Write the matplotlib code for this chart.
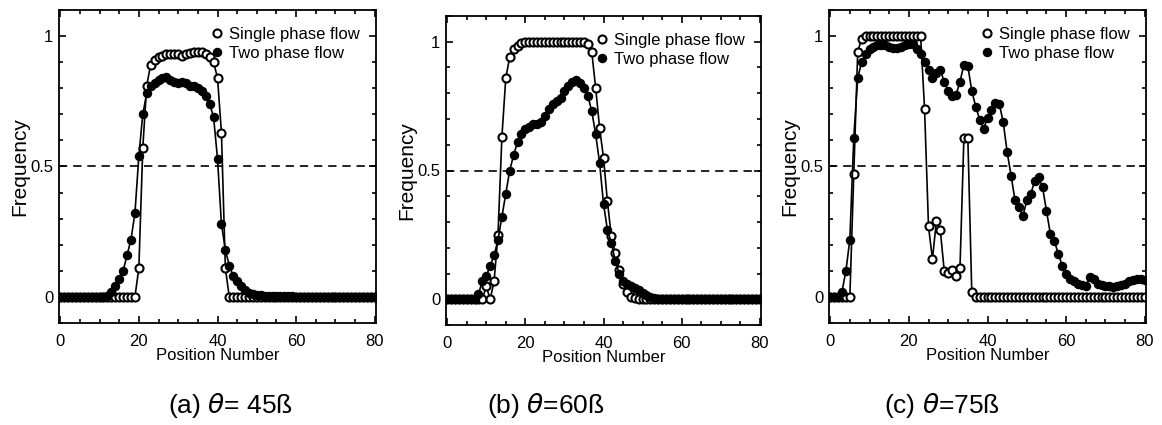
import numpy as np
import matplotlib.pyplot as plt
from matplotlib.ticker import MultipleLocator

plt.rcParams['font.family'] = ['Liberation Sans', 'DejaVu Sans']

pos = np.arange(81)

# (a) theta = 45
single_a = [0]*20 + [0.11, 0.57, 0.81, 0.89, 0.91, 0.92, 0.925, 0.93, 0.93, 0.93,
                     0.93, 0.925, 0.93, 0.935, 0.94, 0.94, 0.94, 0.93, 0.92, 0.90,
                     0.84, 0.63, 0.11] + [0]*38
two_a = [0]*12 + [0.005, 0.02, 0.04, 0.07, 0.10, 0.16, 0.22, 0.32, 0.54, 0.70,
                  0.78, 0.81, 0.82, 0.83, 0.84, 0.845, 0.83, 0.825, 0.82, 0.825,
                  0.82, 0.81, 0.81, 0.80, 0.79, 0.77, 0.74, 0.69, 0.53, 0.28,
                  0.18, 0.12, 0.08, 0.06, 0.04, 0.025, 0.015, 0.01, 0.008, 0.006,
                  0.005, 0.005, 0.004, 0.004, 0.003, 0.003, 0.002, 0.002, 0.001] + [0]*20

# (b) theta = 60
single_b = [0]*10 + [0.05, 0.0, 0.07, 0.25, 0.63, 0.86, 0.94, 0.97, 0.985, 0.995] + \
           [1.0]*16 + [0.99, 0.96, 0.82, 0.665, 0.55, 0.38, 0.245, 0.18, 0.115, 0.06,
                       0.03, 0.01, 0.005] + [0]*32
two_b = [0]*8 + [0.02, 0.07, 0.09, 0.13, 0.17, 0.23, 0.32, 0.41, 0.50, 0.56,
                 0.61, 0.64, 0.66, 0.67, 0.68, 0.68, 0.69, 0.71, 0.74, 0.76,
                 0.77, 0.78, 0.81, 0.83, 0.845, 0.85, 0.84, 0.82, 0.79, 0.73,
                 0.64, 0.53, 0.37, 0.27, 0.22, 0.15, 0.10, 0.07, 0.06, 0.05,
                 0.045, 0.035, 0.025, 0.015, 0.01, 0.005] + [0]*27

# (c) theta = 75
single_c = [0]*6 + [0.47, 0.94, 0.99] + [1.0]*15 + \
           [0.72, 0.27, 0.145, 0.29, 0.255, 0.10, 0.09, 0.105, 0.08, 0.11,
            0.61, 0.61, 0.02] + [0]*44
two_c = [0, 0, 0, 0.02, 0.10, 0.22, 0.61, 0.84, 0.90, 0.93,
         0.95, 0.96, 0.965, 0.965, 0.965, 0.96, 0.955, 0.955, 0.96, 0.965,
         0.97, 0.97, 0.95, 0.93, 0.90, 0.87, 0.84, 0.86, 0.87, 0.825,
         0.79, 0.77, 0.775, 0.825, 0.89, 0.885, 0.79, 0.73, 0.68, 0.645,
         0.685, 0.715, 0.745, 0.74, 0.67, 0.555, 0.465, 0.37, 0.345, 0.31,
         0.37, 0.395, 0.445, 0.46, 0.42, 0.33, 0.24, 0.215, 0.165, 0.12,
         0.087, 0.07, 0.06, 0.05, 0.045, 0.042, 0.075, 0.068, 0.05, 0.045,
         0.04, 0.04, 0.038, 0.04, 0.045, 0.05, 0.06, 0.065, 0.07, 0.07, 0.065]

panels = [
    (single_a, two_a, "(a) $\\theta$= 45ß", [59, 10, 376, 323], 230),
    (single_b, two_b, "(b) $\\theta$=60ß", [446, 16, 761, 325], 546),
    (single_c, two_c, "(c) $\\theta$=75ß", [829, 10, 1146, 323], 942),
]

W, H = 1162, 425
fig = plt.figure(figsize=(W/100, H/100), dpi=100)

for single, two, caption, (l, t, r, b), cx in panels:
    ax = fig.add_axes([l/W, 1 - b/H, (r - l)/W, (b - t)/H])
    ax.axhline(0.5, color='black', linewidth=1.2, ls=(0, (5, 3.5)))
    ax.plot(pos, single, '-o', color='black', markerfacecolor='white',
            markeredgewidth=1.5, markersize=5.8, linewidth=1.2, label='Single phase flow')
    ax.plot(pos, two, '-o', color='black', markersize=5.8, linewidth=1.2,
            label='Two phase flow')
    ax.set_xlim(-0.3, 80.3)
    ax.set_ylim(-0.1, 1.1)
    ax.set_xticks([0, 20, 40, 60, 80])
    ax.set_yticks([0, 0.5, 1])
    ax.set_yticklabels(['0', '0.5', '1'])
    ax.xaxis.set_minor_locator(MultipleLocator(5))
    ax.yaxis.set_minor_locator(MultipleLocator(0.1))
    ax.tick_params(which='both', direction='in', top=True, right=True, width=1.2)
    ax.tick_params(which='major', length=5, labelsize=12, pad=4)
    ax.tick_params(axis='x', which='major', pad=8)
    ax.tick_params(which='minor', length=3)
    for s in ax.spines.values():
        s.set_linewidth(1.3)
    ax.set_xlabel('Position Number', fontsize=12, labelpad=-1)
    ax.set_ylabel('Frequency', fontsize=15, labelpad=1)
    leg = ax.legend(loc='upper right', frameon=False, fontsize=12, handlelength=0.6,
                    handletextpad=0.4, borderaxespad=0.8, labelspacing=0.25,
                    borderpad=0.2)
    # markers only in the legend, as in the original figure
    for h in leg.get_lines():
        h.set_linestyle('None')
    fig.text(cx/W, 1 - 405/H, caption, fontsize=19, ha='center', va='center')

fig.savefig('out.png', dpi=100)
